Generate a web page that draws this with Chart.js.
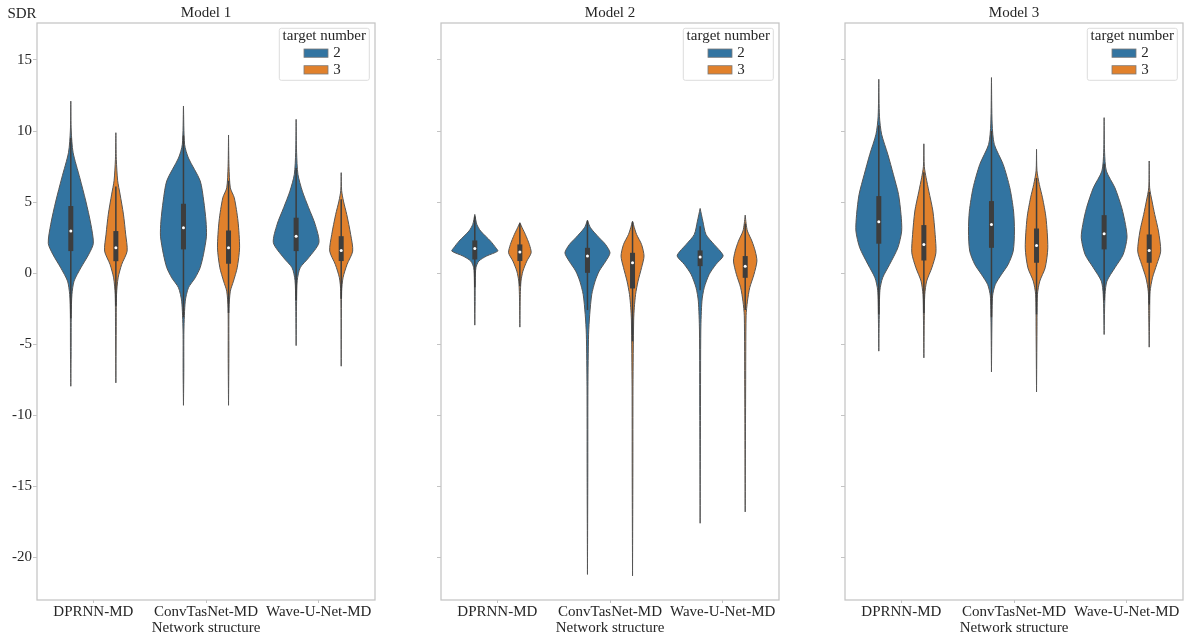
<!DOCTYPE html>
<html><head><meta charset="utf-8">
<script src="https://cdn.jsdelivr.net/npm/chart.js@4.4.1/dist/chart.umd.min.js"></script>
<style>
html,body{margin:0;padding:0;background:#fff;overflow:hidden;}
#wrap{position:relative;width:1193px;height:638px;}
.panel{position:absolute;top:0;width:380px;height:638px;}
</style></head><body>
<div id="wrap">
<div class="panel" style="left:0px"><canvas id="c1"></canvas></div>
<div class="panel" style="left:404px"><canvas id="c2"></canvas></div>
<div class="panel" style="left:808px"><canvas id="c3"></canvas></div>
</div>
<script>
// ---------- data ----------
const categories = ['DPRNN-MD', 'ConvTasNet-MD', 'Wave-U-Net-MD'];
const hueLevels = ['2', '3'];
const modelTitles = ['Model 1', 'Model 2', 'Model 3'];
const sdrTicks = [-20, -15, -10, -5, 0, 5, 10, 15];

// violin outlines: [SDR value, half width in category units]
const m1DprnnT2 = [[12.1,0],[10,.004],[8.5,.02],[6.7,.08],[5.07,.133],[3.44,.178],[2.1,.2],[1.33,.16],[0.37,.089],[-0.56,.029],[-1.5,.01],[-2.9,.004],[-5.5,.003],[-7.96,0]];
const m1DprnnT3 = [[9.88,0],[8,.004],[6.5,.016],[5.56,.037],[4.15,.067],[2.74,.087],[1.55,.1],[0.62,.052],[-0.33,.02],[-1.5,.006],[-4,.003],[-7.72,0]];
const m1ConvT2 = [[11.76,0],[9.06,.01],[8.1,.044],[6.5,.148],[5.07,.18],[3.66,.2],[2.6,.204],[1.33,.178],[0.38,.148],[-0.33,.104],[-1.03,.044],[-1.97,.016],[-4,.004],[-7,.003],[-9.3,0]];
const m1ConvT3 = [[9.72,0],[7.5,.004],[6.0,.016],[5.3,.051],[3.66,.084],[1.78,.098],[0.38,.077],[-0.56,.044],[-1.27,.016],[-2.5,.004],[-6,.003],[-9.3,0]];
const m1WaveT2 = [[10.82,0],[8.5,.004],[6.95,.016],[5.77,.055],[4.6,.111],[3.43,.169],[2.14,.202],[1.08,.111],[0.38,.036],[-0.5,.01],[-2,.004],[-5.1,0]];
const m1WaveT3 = [[7.07,0],[5.8,.004],[5.07,.02],[4.13,.049],[2.72,.084],[1.55,.102],[0.61,.052],[-0.33,.016],[-1.3,.004],[-6.55,0]];
// [whisker low, q1, median, q3, whisker high]
const m1Boxes = [[-3.2,1.55,2.96,4.72,9.5],[-2.3,0.84,1.78,2.96,6.1],[-3.1,1.67,3.19,4.88,9.7],[-2.8,0.66,1.78,3.0,6.5],[-1.9,1.55,2.6,3.9,7.4],[-1.8,0.85,1.6,2.6,5.2]];

const m2DprnnT2 = [[4.13,0],[3.43,.018],[2.96,.052],[2.25,.14],[1.78,.187],[1.55,.204],[1.2,.104],[0.85,.036],[0.38,.01],[-0.5,.004],[-2,.003],[-3.66,0]];
const m2DprnnT3 = [[3.55,0],[3.2,.02],[2.72,.049],[2.02,.084],[1.43,.1],[0.85,.062],[0.14,.027],[-0.56,.01],[-1.5,.004],[-3.8,0]];
const m2ConvT2 = [[3.71,0],[3.19,.027],[2.49,.104],[2.02,.16],[1.43,.2],[0.85,.163],[0.14,.104],[-0.56,.068],[-1.5,.038],[-2.91,.02],[-4.3,.01],[-8,.004],[-14,.003],[-21.2,0]];
const m2ConvT3 = [[3.66,0],[3.2,.016],[2.72,.036],[2.02,.08],[1.2,.102],[0.38,.08],[-0.56,.049],[-1.5,.027],[-2.4,.016],[-3.3,.01],[-8,.004],[-14,.003],[-21.3,0]];
const m2WaveT2 = [[4.55,0],[3.66,.024],[2.72,.052],[2.02,.124],[1.55,.178],[1.2,.204],[0.61,.14],[-0.09,.08],[-1.03,.036],[-1.97,.016],[-4,.006],[-10,.003],[-17.6,0]];
const m2WaveT3 = [[4.08,0],[3.5,.008],[2.96,.02],[2.25,.06],[1.55,.089],[0.85,.104],[-0.09,.078],[-1.03,.04],[-1.97,.02],[-3,.008],[-8,.004],[-16.8,0]];
const m2Boxes = [[-1.0,0.96,1.74,2.3,4.0],[-0.9,0.85,1.48,2.02,3.5],[-2.6,0.02,1.2,1.78,3.7],[-4.8,-1.08,0.73,1.43,3.6],[-1.2,0.49,1.13,1.6,3.3],[-2.6,-0.33,0.49,1.2,3.5]];

const m3DprnnT2 = [[13.64,0],[11,.006],[9.77,.025],[8.36,.08],[6.95,.129],[5.54,.175],[4.13,.197],[2.96,.203],[1.78,.169],[0.61,.096],[-0.33,.034],[-1.2,.01],[-3,.004],[-5.49,0]];
const m3DprnnT3 = [[9.1,0],[7.5,.004],[6.71,.02],[5.77,.044],[4.37,.08],[2.72,.1],[1.43,.107],[0.38,.071],[-0.56,.025],[-1.5,.008],[-3,.004],[-5.96,0]];
const m3ConvT2 = [[13.76,0],[10.5,.006],[9.06,.025],[7.65,.104],[6.0,.163],[4.37,.196],[2.96,.204],[1.55,.193],[0.61,.148],[-0.09,.089],[-0.8,.034],[-1.6,.01],[-3.5,.004],[-6.95,0]];
const m3ConvT3 = [[8.71,0],[7.2,.004],[6.24,.025],[5.3,.053],[3.9,.084],[1.78,.1],[0.38,.077],[-0.56,.029],[-1.5,.008],[-4,.004],[-8.36,0]];
const m3WaveT2 = [[10.94,0],[8.5,.004],[7.18,.02],[6.0,.096],[4.6,.156],[3.43,.189],[2.49,.203],[1.31,.169],[0.38,.096],[-0.56,.025],[-1.5,.008],[-4.32,0]];
const m3WaveT3 = [[7.89,0],[6,.004],[5.07,.025],[4.13,.049],[2.96,.082],[1.55,.102],[0.61,.067],[-0.33,.029],[-1.3,.008],[-3,.004],[-5.21,0]];
const m3Boxes = [[-2.9,2.07,3.61,5.42,10.4],[-2.8,0.89,2.02,3.38,7.1],[-3.1,1.78,3.43,5.07,10.0],[-2.9,0.73,1.95,3.14,6.7],[-1.9,1.67,2.77,4.08,7.7],[-2.2,0.73,1.6,2.72,5.7]];

const m1Profiles = [m1DprnnT2, m1DprnnT3, m1ConvT2, m1ConvT3, m1WaveT2, m1WaveT3];
const m2Profiles = [m2DprnnT2, m2DprnnT3, m2ConvT2, m2ConvT3, m2WaveT2, m2WaveT3];
const m3Profiles = [m3DprnnT2, m3DprnnT3, m3ConvT2, m3ConvT3, m3WaveT2, m3WaveT3];

// ---------- style ----------
const FONT = '"Liberation Serif", "Times New Roman", serif';
const TXT = '#262626';
const FRAME = '#c4c4c4';
const EDGE = '#555555';
const BOXGRAY = '#3d3d3d';
const hueColors = ['#3274a1', '#e1812c'];
const hueOffset = [-0.2, 0.2];

function buildDatasets(profiles, boxes) {
  const ds = [];
  profiles.forEach((prof, k) => {
    const cat = Math.floor(k / 2), hue = k % 2;
    const pos = cat + hueOffset[hue];
    const right = prof.map(([v, w]) => ({x: pos + w, y: v}));
    const left = prof.slice().reverse().map(([v, w]) => ({x: pos - w, y: v}));
    ds.push({data: right.concat(left), fill: 'shape', backgroundColor: hueColors[hue],
      borderColor: EDGE, borderWidth: 1, pointRadius: 0, tension: 0.25, order: 4});
    const b = boxes[k];
    ds.push({data: [{x: pos, y: b[0]}, {x: pos, y: b[4]}], borderColor: BOXGRAY,
      borderWidth: 1.5, pointRadius: 0, fill: false, order: 3});
    ds.push({data: [{x: pos, y: b[1]}, {x: pos, y: b[3]}], borderColor: BOXGRAY,
      borderWidth: 5, borderCapStyle: 'butt', pointRadius: 0, fill: false, order: 2});
    ds.push({data: [{x: pos, y: b[2]}], showLine: false, pointRadius: 1.5,
      pointBackgroundColor: '#ffffff', pointBorderWidth: 0, fill: false, order: 1});
  });
  return ds;
}

const decor = {
  id: 'decor',
  afterDraw(chart, args, opts) {
    const {ctx, chartArea: a} = chart;
    ctx.save();
    ctx.strokeStyle = FRAME; ctx.lineWidth = 1.25;
    ctx.strokeRect(a.left, a.top, a.right - a.left, a.bottom - a.top);
    // legend box
    const bw = 90, bh = 52;
    const bx = a.right - 5.7 - bw, by = a.top + 5.3;
    ctx.beginPath();
    ctx.roundRect(bx, by, bw, bh, 2);
    ctx.fillStyle = 'rgba(255,255,255,0.85)';
    ctx.fill();
    ctx.strokeStyle = '#dcdcdc'; ctx.lineWidth = 1;
    ctx.stroke();
    ctx.font = '15px ' + FONT;
    ctx.fillStyle = TXT; ctx.textAlign = 'center'; ctx.textBaseline = 'middle';
    ctx.fillText('target number', bx + bw / 2, by + 7.5);
    hueLevels.forEach((h, i) => {
      const py = by + 20.7 + i * 16.7;
      ctx.fillStyle = hueColors[i];
      ctx.fillRect(bx + 24.7, py, 24, 8.3);
      ctx.strokeStyle = '#7a7a7a'; ctx.lineWidth = 0.8;
      ctx.strokeRect(bx + 24.7, py, 24, 8.3);
      ctx.fillStyle = TXT; ctx.textAlign = 'left';
      ctx.fillText(h, bx + 54, py + 4.5);
    });
    if (opts && opts.yLabel) {
      ctx.textAlign = 'center';
      ctx.fillText(opts.yLabel, 22, 14);
    }
    ctx.restore();
  }
};

function makeChart(id, idx, profiles, boxes, showY) {
  return new Chart(document.getElementById(id), {
    type: 'line',
    data: {datasets: buildDatasets(profiles, boxes)},
    plugins: [decor],
    options: {
      responsive: true, maintainAspectRatio: false, animation: false, events: [],
      layout: {padding: {left: 0, right: 5, top: 0, bottom: 0}},
      plugins: {
        legend: {display: false}, tooltip: {enabled: false},
        title: {display: true, text: modelTitles[idx], fullSize: false, color: TXT,
          font: {family: FONT, size: 15, weight: 'normal'}, padding: {top: 4, bottom: 1}},
        decor: {yLabel: showY ? 'SDR' : null}
      },
      scales: {
        x: {type: 'linear', min: -0.5, max: 2.5,
          afterBuildTicks: s => { s.ticks = categories.map((c, i) => ({value: i})); },
          afterFit: s => { s.height = 38; },
          ticks: {callback: v => categories[v], autoSkip: false, maxRotation: 0, minRotation: 0,
            color: TXT, font: {family: FONT, size: 15}, padding: 0},
          grid: {drawOnChartArea: false, drawTicks: true, tickLength: 3, color: FRAME},
          border: {display: false},
          title: {display: true, text: 'Network structure', color: TXT,
            font: {family: FONT, size: 15}, padding: {top: 0, bottom: 1}}
        },
        y: {type: 'linear', min: -23.0, max: 17.6,
          afterBuildTicks: s => { s.ticks = sdrTicks.map(v => ({value: v})); },
          afterFit: s => { s.width = 37; },
          ticks: {callback: v => showY ? String(v) : '', color: TXT,
            font: {family: FONT, size: 15}, padding: 1},
          grid: {drawOnChartArea: false, drawTicks: true, tickLength: 4, color: FRAME},
          border: {display: false}
        }
      }
    }
  });
}

makeChart('c1', 0, m1Profiles, m1Boxes, true);
makeChart('c2', 1, m2Profiles, m2Boxes, false);
makeChart('c3', 2, m3Profiles, m3Boxes, false);
</script>
</body></html>
